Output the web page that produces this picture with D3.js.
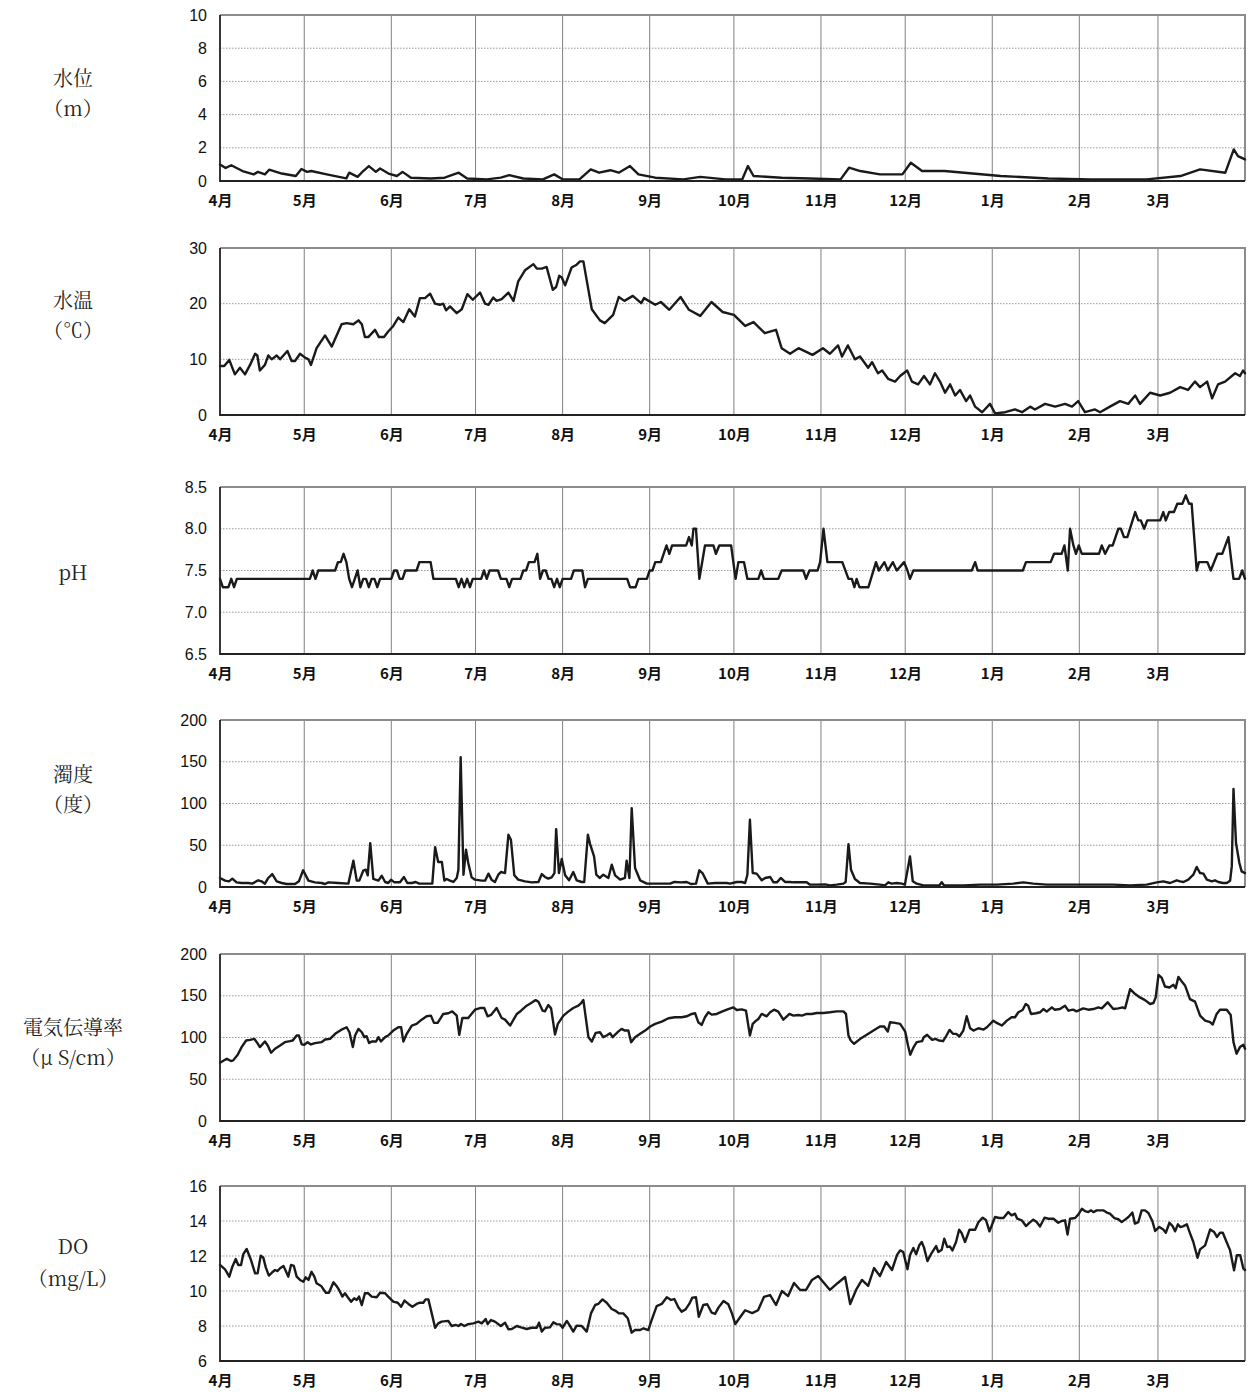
<!DOCTYPE html>
<html><head><meta charset="utf-8">
<script src="https://cdn.jsdelivr.net/npm/d3@7"></script>
<style>
body{margin:0;background:#fff;}
svg{display:block;}
</style></head>
<body>
<svg id="chart" width="1250" height="1396"></svg>
<script>
// ---------- DATA (day index from 1 April, value) ----------
const monthLabels = ["4月","5月","6月","7月","8月","9月","10月","11月","12月","1月","2月","3月"];

const levelTicks = [0,2,4,6,8,10];
const tempTicks = [0,10,20,30];
const phTicks = [6.5,7.0,7.5,8.0,8.5];
const turbTicks = [0,50,100,150,200];
const ecTicks = [0,50,100,150,200];
const doTicks = [6,8,10,12,14,16];

const levelData = [[0,1.0],[2,0.78],[4,0.95],[8,0.6],[12,0.4],[13.5,0.55],[16,0.4],[17.5,0.68],[22,0.45],[27,0.3],[29,0.72],[31,0.55],[32.5,0.6],[38,0.4],[45,0.16],[46,0.5],[49,0.25],[51,0.6],[53,0.9],[55.5,0.55],[57,0.75],[60,0.45],[63,0.3],[65,0.55],[68,0.2],[75,0.15],[80,0.2],[85,0.5],[88,0.15],[95,0.1],[100,0.2],[103,0.35],[108,0.15],[115,0.1],[119,0.4],[122,0.1],[128,0.1],[132,0.7],[135,0.5],[139,0.65],[142,0.5],[146,0.9],[149,0.4],[155,0.2],[165,0.1],[171,0.25],[180,0.1],[186,0.1],[188,0.9],[190,0.3],[200,0.2],[210,0.15],[221,0.1],[224,0.8],[228,0.6],[235,0.4],[243,0.4],[246,1.1],[250,0.6],[258,0.6],[265,0.5],[278,0.3],[295,0.15],[310,0.1],[330,0.1],[342,0.3],[349,0.7],[358,0.5],[361,1.9],[362.5,1.5],[365,1.3]];

const tempData = [[0,8.8],[1.5,8.8],[3.3,9.9],[5.3,7.3],[7.1,8.5],[8.9,7.3],[10.7,9],[12.5,11],[13.3,10.7],[14.2,8],[16,9],[17.2,10.7],[18.4,10],[20.2,10.7],[21.4,10],[24,11.5],[25.5,9.7],[26.7,9.7],[28.5,11],[30.3,10.3],[31.5,10],[32.4,9],[34.4,12],[37.4,14.3],[39.8,12.3],[43.3,16.3],[45.1,16.5],[47.5,16.3],[49.3,17],[50.5,16.3],[51.6,14],[52.8,14],[55.2,15.3],[56.6,14],[58.4,14],[59.9,15],[61.7,16],[63.5,17.5],[65.3,16.7],[67.4,19],[69.4,17.7],[71.2,21],[73,21],[74.8,21.8],[76.6,20],[78.3,19.8],[79.5,20],[80.5,18.8],[81.9,19.5],[84.3,18.3],[86.1,19],[88.1,21.7],[90,20.7],[92.6,22],[94.4,20],[95.6,19.8],[97.3,21.1],[98.5,20.5],[100.3,20.8],[102.7,22],[104.5,20.5],[106.2,24],[108.6,26],[111.6,27.1],[112.8,26.3],[114.6,26.3],[116.3,26.6],[118.5,22.5],[119.7,23],[120.8,25],[121.7,24.7],[122.9,23.3],[125.2,26.5],[127,27],[128.2,27.6],[129.4,27.6],[132.4,19],[135.3,17],[137,16.5],[140,18],[142,21.2],[144,20.5],[147,21.4],[150,20.1],[151,21],[155,19.8],[157,20.3],[160,18.9],[164,21.2],[167,18.9],[171,17.8],[175,20.3],[179,18.5],[183,18],[187,16],[190,16.7],[194,14.7],[198,15.3],[200,12],[203,11],[206,12],[211,10.8],[214.7,12],[217.2,11],[220.1,12.5],[221.5,10.5],[223.6,12.5],[226.1,10],[227.9,10.5],[230.8,8.5],[232.2,9.5],[234.3,7.5],[235.8,8],[237.9,6.5],[240.4,6],[242.2,7],[244.7,8],[246.4,6],[248.6,5.5],[250.7,7],[252.8,5.5],[254.6,7.5],[256.4,6],[258.2,4],[260,5.5],[261.8,3.5],[263.5,4.5],[265.7,2.5],[267.1,3.5],[268.9,1.5],[271.4,0.5],[274.2,2],[276,0.3],[279.6,0.5],[283.1,1],[285.6,0.5],[288.5,1.5],[290.2,1],[293.8,2],[297.4,1.5],[300.9,2],[303.4,1.5],[305.6,2.5],[308,0.5],[311.6,1],[313.4,0.5],[316.9,1.5],[320.5,2.5],[323.4,2],[325.9,3.5],[327.6,2],[331.2,4],[334.8,3.5],[338.3,4],[341.9,5],[344.7,4.5],[347.2,6],[349,5],[351.5,6],[353.3,3],[355.4,5.5],[357.9,6],[361.5,7.5],[363.2,7],[364.3,8],[365,7.5]];

const phData = [[0,7.4],[1,7.3],[3,7.3],[4,7.4],[5,7.3],[6,7.4],[32,7.4],[33,7.5],[34,7.4],[35,7.5],[41,7.5],[42,7.6],[43,7.6],[44,7.7],[45,7.6],[46,7.4],[47,7.3],[48,7.4],[49,7.5],[50,7.3],[51,7.4],[52,7.4],[53,7.3],[54,7.4],[55,7.4],[56,7.3],[57,7.4],[61,7.4],[62,7.5],[63,7.5],[64,7.4],[65,7.4],[66,7.5],[70,7.5],[71,7.6],[75,7.6],[76,7.4],[84,7.4],[85,7.3],[86,7.4],[87,7.3],[88,7.4],[89,7.3],[90,7.4],[93,7.4],[94,7.5],[95,7.4],[96,7.5],[99,7.5],[100,7.4],[102,7.4],[103,7.3],[104,7.4],[107,7.4],[108,7.5],[109,7.5],[110,7.6],[112,7.6],[113,7.7],[114,7.4],[115,7.5],[116,7.5],[117,7.4],[118,7.4],[119,7.3],[120,7.4],[121,7.3],[122,7.4],[125,7.4],[126,7.5],[129,7.5],[130,7.3],[131,7.4],[145,7.4],[146,7.3],[148,7.3],[149,7.4],[152,7.4],[153,7.5],[154,7.5],[155,7.6],[157,7.6],[159,7.8],[160,7.7],[161,7.8],[166,7.8],[167,7.9],[168,7.8],[168.6,8.0],[169.5,8.0],[170.7,7.4],[172.7,7.8],[175.7,7.8],[176.6,7.7],[177.8,7.8],[182,7.8],[183.6,7.4],[184.6,7.6],[186.6,7.6],[187.8,7.4],[191.7,7.4],[192.7,7.5],[193.7,7.4],[198.8,7.4],[200,7.5],[207.7,7.5],[208.7,7.4],[209.9,7.5],[212.8,7.5],[213.7,7.6],[214.9,8.0],[216.3,7.6],[221.6,7.6],[223.8,7.4],[225,7.4],[225.9,7.3],[226.7,7.4],[227.7,7.3],[230.9,7.3],[233.6,7.6],[234.6,7.5],[236.6,7.6],[237.8,7.5],[239.6,7.6],[241,7.5],[243.6,7.6],[244.8,7.5],[245.7,7.4],[246.9,7.5],[267.7,7.5],[268.9,7.6],[269.8,7.5],[285.9,7.5],[287,7.6],[295.8,7.6],[297,7.7],[299.7,7.7],[300.7,7.8],[301.9,7.5],[302.7,8.0],[303.9,7.8],[304.8,7.7],[305.8,7.8],[306.9,7.7],[313,7.7],[314,7.8],[315.2,7.7],[316.7,7.8],[317.9,7.8],[319.9,8.0],[320.8,8.0],[321.9,7.9],[323.1,7.9],[325.9,8.2],[327,8.1],[327.9,8.1],[329.1,8.0],[330.2,8.1],[334.8,8.1],[335.9,8.2],[336.8,8.1],[338,8.2],[339.7,8.2],[340.9,8.3],[342.7,8.3],[343.9,8.4],[345.1,8.3],[346,8.3],[347.8,7.5],[348.6,7.6],[351.6,7.6],[352.8,7.5],[355.2,7.7],[356.9,7.7],[359.1,7.9],[360.9,7.4],[362.9,7.4],[364,7.5],[365,7.4]];

const turbData = [[0,10.8],[1.8,7.6],[3.2,6.8],[4.4,10],[5.9,5.6],[7.7,4.8],[10.1,4.8],[11.5,4],[13.6,8],[14.8,6.8],[16,4],[17.2,10.8],[18.6,15.5],[20.2,6.8],[22,4.8],[23.7,3.6],[26.7,3.6],[28.1,6.8],[29.6,20],[31.5,7.6],[33.8,5.6],[36.2,4.8],[37.4,3.6],[38.6,5.6],[42.1,4.8],[45.7,4],[47.5,31.5],[48.7,7.6],[49.6,7.6],[51,19.5],[51.9,20.7],[52.6,14],[53.5,52.6],[54.6,9.6],[56.4,7.6],[57.6,13.5],[58.8,6],[59.9,4.8],[60.9,8.8],[62.1,5.6],[64.1,5.6],[65.5,12],[66.7,4.8],[68.3,4.8],[69.7,6],[70.9,4],[75.6,4],[76.6,47.8],[77.7,30],[79,30],[79.9,7.6],[80.7,9.6],[81.9,7.6],[83.1,6],[84.3,10.8],[84.9,20.7],[85.7,155.4],[86.7,14.7],[87.6,44.6],[88.4,28.7],[89.6,11.6],[90.8,8.8],[93.2,7.6],[94.4,7.6],[95.6,16],[96.7,8.8],[97.9,6],[99.1,14.7],[100.1,18],[101.5,16.7],[102.7,62.5],[103.6,56.6],[104.8,14],[106.2,8.8],[108.6,6.8],[111,5.6],[113.4,6],[114.6,15.5],[115.7,12],[116.9,10],[118.1,11.6],[119.1,16.7],[119.7,69.3],[120.7,16.7],[121.7,33.5],[122.9,14],[124.3,8],[125.8,18],[127,8],[128.8,6],[129.7,6],[131,62.5],[131.8,51.4],[133.2,36.6],[134,14.7],[135.2,10.8],[136.5,14.7],[138.3,10.8],[139.5,26.7],[140.7,14],[142.5,8.8],[144.2,10.8],[144.8,31.5],[145.8,10.8],[146.6,94.4],[147.8,22.7],[149.6,8],[152,4],[160.3,4],[161.8,6],[164.2,5.6],[166.2,6],[167.7,3.6],[169.5,4],[170.7,20],[171.8,16.7],[173.7,4],[176.3,4.8],[180.5,4.8],[181.6,4],[184,6],[185.8,6],[187,4.8],[187.8,14.7],[188.7,80.5],[189.7,16.7],[191.1,16],[192.9,8],[194.1,10.8],[195.9,12],[197.1,5.6],[198.3,5.6],[199.7,10.8],[201.2,6],[203,6],[204.2,5.6],[208.9,5.6],[210.1,2.8],[212.5,2.8],[215.5,3.2],[217.2,2],[219.6,2.8],[222,4],[222.8,6],[223.8,51.4],[224.7,20.7],[226.1,9.6],[227.9,4.8],[231.5,4],[235,2.8],[236.8,2],[238,5.6],[239.2,4],[241,4.8],[242.8,4],[243.9,2.8],[245.7,36.6],[246.7,6.8],[248.1,4],[250.5,2],[256.2,2],[257,5.6],[257.8,2],[264.7,2],[270.7,2.8],[276.6,2.8],[282.5,4],[286.1,5.6],[289.6,4],[294.4,2.8],[300.3,2.8],[306.3,2.8],[312.2,2.8],[318.1,2.8],[324.1,2],[330,2.8],[333.6,5.6],[335.9,6.8],[338.3,4.8],[340.7,8],[341.9,6.8],[343.1,6],[344.8,8.8],[346.6,14.7],[347.8,24],[349,16.7],[350.2,16],[351.4,8.8],[353.2,6.8],[354.3,8],[355.5,6],[357.1,4.8],[358.5,4.8],[359.7,7.6],[360.3,25],[360.9,117.5],[361.8,52.6],[363,28.7],[363.8,18.7],[365,16.7]];

const ecData = [[0,69.8],[2.4,74.6],[3.9,71.8],[4.7,72.6],[6.3,79.4],[7.7,88.5],[9.3,96.4],[10.7,97.2],[12.2,98.4],[13.1,94.4],[14.2,88.5],[16,95.2],[17,90.5],[18.2,81.7],[19.6,86.5],[21.4,90.5],[23.1,94.4],[24.9,95.6],[25.9,96.4],[27.3,102.4],[28.1,102.4],[29.1,91.7],[30,91.3],[31.2,94.4],[32.4,91.7],[33.8,93.3],[36.2,94.4],[37.4,97.6],[39.2,98.4],[41,104.4],[43.1,109.1],[45.1,112.3],[46.1,106.3],[47.3,88.5],[48.1,102.4],[49.3,110.3],[50.5,106.3],[51.4,100.4],[52.2,101.6],[53.1,93.3],[54,95.2],[55.6,95.2],[56.4,100.4],[57.3,95.2],[58.8,100.4],[59.9,102.4],[61.7,108.3],[63.5,112.3],[64.5,112.3],[65.3,95.2],[66.5,104.4],[68.3,114.3],[70,116.3],[71.8,121.4],[73.6,125.4],[75.1,126.2],[76.2,117.5],[77.5,117.5],[79.5,128.2],[81.3,129],[82.7,131.3],[84.3,126.2],[85.2,103.2],[86.3,123.4],[88.4,123.4],[90.8,133.3],[92.6,135.3],[94.1,135.3],[95.3,125.4],[96.5,127],[98.5,135.3],[100.3,123.4],[101.5,121.4],[103.3,114.3],[105.7,128.2],[107.2,132.1],[109.2,138.1],[110.8,141.3],[112.4,144.8],[113.4,142.9],[114.9,132.1],[115.7,131.3],[116.9,138.9],[117.9,134.9],[119.3,103.6],[120.3,116.3],[122.3,126.2],[124,131],[125.8,135.3],[127.6,138.1],[128.6,141.3],[129.4,144.8],[131.2,100.4],[132.4,95.2],[133.8,105.6],[135.3,106.3],[136.5,100.4],[137.7,102.4],[138.9,105.2],[139.8,100.4],[141.8,107.1],[143,110.3],[144.2,108.3],[145.4,108.3],[146.4,94.4],[147.8,100.4],[149.6,104.4],[151.4,108.3],[153.2,113.1],[155,116.3],[157.3,119],[159.7,123],[162,124.2],[164.4,124.2],[166.2,125.4],[168,128.2],[169.2,129],[170.3,118.3],[171.5,115.1],[172.7,124.2],[173.9,130.2],[175.1,127.4],[176.9,128.2],[178.7,131],[181,134.1],[182.8,136.1],[184,132.9],[185.8,133.7],[187.3,132.1],[188.7,102.4],[189.7,116.3],[190.9,120.2],[191.7,122.2],[192.9,128.2],[194.7,125.4],[195.9,130.2],[197.3,133.3],[198.8,131],[200.6,121.4],[202.8,128.2],[204.2,126.2],[206,127],[207.2,126.2],[208.9,128.2],[210.7,128.2],[212.5,129.4],[214.9,129.4],[217.2,130.2],[219.6,131.3],[222,131.3],[222.9,128.2],[223.8,102.4],[224.6,96.4],[225.8,92.5],[228,98.4],[230.3,103.2],[232.7,108.3],[235,113.1],[236.5,113.1],[237.8,107.1],[238.6,118.3],[240.4,117.5],[242.2,116.3],[244,107.1],[245,90.5],[245.8,79.4],[247,88.5],[248.1,94.4],[250,95.6],[250.6,100.4],[251.8,103.2],[253.6,97.2],[254.8,98.4],[256,96.4],[257.5,95.6],[258.7,102.4],[259.8,109.1],[261,104.4],[262.2,104.4],[263.3,101.2],[264.7,108.3],[265.9,125.4],[267.1,111.1],[268.3,108.3],[270.1,111.1],[271.9,109.5],[273.1,112.3],[275.4,120.2],[276.6,117.5],[278.4,114.3],[280.2,120.2],[281.9,124.2],[283.1,124.2],[284.3,130.2],[285.8,132.9],[286.9,140.1],[287.8,138.1],[288.8,128.2],[290.6,129],[292,130.2],[293.2,134.1],[294.4,131],[296.2,136.1],[297.3,133.3],[299.1,134.1],[300.9,138.1],[302.1,132.1],[303.8,133.3],[305,131.3],[307.4,134.9],[309.2,133.3],[311,134.1],[312.8,136.1],[314,134.9],[316.1,142.1],[318.1,134.1],[319.9,134.9],[321.4,136.1],[322.3,134.9],[324.1,157.9],[325.9,152],[327.6,148],[329.4,144.8],[331.2,140.1],[332.4,141.3],[333.2,148],[334.2,175],[335.3,171.8],[336.5,161.1],[338.1,159.9],[339.5,163.1],[340.3,159.1],[341.3,172.6],[342.5,167.1],[343.7,161.9],[345.4,146],[347.2,142.9],[349,126.2],[350.8,120.2],[352.6,118.3],[353.5,115.5],[354.9,128.2],[356.1,133.3],[358.5,133.3],[359.9,127],[360.9,94.4],[362,80.6],[363.2,88.5],[364.4,91.3],[365,86.5]];

const doData = [[0,11.49],[1.8,11.24],[3.3,10.82],[4.4,11.39],[5.6,11.83],[6.5,11.49],[7.5,11.49],[8.3,12.11],[9.5,12.4],[10.9,11.83],[12.5,11.01],[13.4,11.01],[14.5,12.02],[15.4,11.92],[16.3,11.35],[17.4,10.88],[18.6,11.07],[19.6,11.2],[20.5,11.14],[21.4,11.3],[22.6,11.43],[23.4,11.16],[24.3,10.82],[25.3,11.49],[26.3,11.43],[27.3,10.82],[28.5,10.63],[29.7,10.53],[30.5,10.78],[31.5,10.63],[32.6,11.1],[33.6,10.82],[34.4,10.44],[36,10.29],[37.7,9.9],[38.8,9.9],[40.4,10.5],[41.5,10.29],[42.4,10.06],[43.6,9.68],[44.5,9.87],[45.5,9.64],[46.7,9.39],[47.8,9.58],[48.7,9.49],[49.5,9.68],[50.5,9.2],[51.6,9.87],[52.8,9.87],[54,9.68],[55.8,9.64],[57,9.9],[58.8,9.87],[59.9,9.68],[61.7,9.39],[63.3,9.33],[64.5,9.1],[65.7,9.45],[67.1,9.26],[68.5,9.1],[70,9.26],[71.2,9.33],[72.4,9.33],[73.2,9.52],[74.2,9.52],[75.4,8.72],[76.6,7.9],[77.7,8.15],[78.9,8.25],[81.3,8.29],[82.5,8],[83.9,8.06],[84.9,8],[85.8,8.11],[87,8],[88.4,8.11],[90.2,8.15],[92,8.25],[93.2,8.15],[94.6,8.4],[95.3,8.11],[96.5,8.34],[97.9,8.25],[100,8],[101.5,8.19],[102.7,7.81],[103.9,7.83],[105.7,8],[107.2,7.92],[109.2,7.83],[111,7.9],[112.8,7.9],[113.6,8.19],[114.6,7.68],[115.7,7.9],[117.5,7.92],[118.7,8.21],[119.9,8.11],[121.1,8.09],[122,7.9],[123.5,8.29],[124.4,8.06],[125.8,7.68],[127,8.02],[128.8,8],[130.6,7.68],[132.1,8.72],[133.6,9.2],[134.7,9.26],[136.2,9.52],[137.7,9.33],[139.5,8.97],[140.7,8.88],[142.1,8.72],[143.6,8.72],[145.2,8.44],[146.6,7.62],[147.8,7.77],[149.6,7.77],[150.8,7.87],[152.5,7.77],[153.7,8.34],[155.5,9.14],[157.3,9.26],[159.1,9.64],[160.6,9.49],[161.8,9.54],[163.2,9.07],[164.4,8.82],[165.8,8.95],[167.1,9.26],[168.2,9.62],[169.5,9.64],[170.5,8.53],[172.1,9.2],[173.5,9.24],[175.1,8.76],[176.3,8.69],[177.5,9.05],[179.3,9.43],[181,9.24],[182.3,8.72],[183.5,8.11],[184.5,8.34],[187,8.9],[189.5,8.74],[191.6,8.9],[193.7,9.66],[195.9,9.77],[198,9.2],[200.1,10],[202.3,9.71],[204.4,10.46],[206.6,10.06],[208.7,10.06],[210.8,10.63],[213,10.86],[215.1,10.46],[217.2,10.06],[220,10.46],[222.6,10.8],[224.4,9.26],[226.5,10.06],[228.6,10.63],[230.8,10.29],[232.9,11.31],[235,10.86],[237.2,11.66],[239.3,11.2],[241.1,12.06],[242.2,12.32],[243.3,12.23],[244.8,11.24],[245.7,12.04],[246.9,12.46],[247.9,12.1],[249,12.61],[249.9,12.8],[250.7,12.48],[251.9,11.71],[253.4,12.17],[255,12.57],[255.8,12.23],[257,12.36],[257.9,12.99],[259,12.51],[259.9,12.55],[260.8,12.32],[262.1,12.8],[263.2,13.5],[264.1,13.31],[265.3,12.8],[266.9,13.5],[268.9,13.5],[270.1,13.94],[271.6,14.19],[272.8,14.04],[274,13.41],[276,14.23],[277.5,14.17],[279,14.17],[280.7,14.51],[281.9,14.32],[283.1,14.42],[283.9,14.13],[285.5,14.04],[287,13.71],[288.2,13.89],[289.6,14.08],[290.8,13.94],[292,13.69],[293.6,14.19],[295,14.13],[296.8,14.13],[298.5,13.9],[299.7,14],[300.9,14.04],[301.8,13.22],[302.7,14.13],[304.5,14.17],[305.7,14.38],[306.9,14.7],[308,14.57],[309.2,14.51],[310.2,14.61],[311,14.51],[312.2,14.61],[314.5,14.61],[315.8,14.48],[316.9,14.42],[318.5,14.17],[319.9,14.1],[321.1,13.94],[322.3,14.08],[323.5,14.23],[324.9,14.48],[325.8,13.85],[327,13.94],[328.2,14.61],[329.4,14.61],[330.6,14.46],[332,14],[333,13.43],[334.5,13.66],[335.9,13.52],[336.8,13.33],[338.1,13.9],[339.3,13.69],[340.1,13.41],[341.1,13.81],[341.9,13.66],[342.9,13.69],[344.3,13.81],[345.4,13.31],[346.6,12.8],[348.1,11.9],[349,12.38],[350.8,12.61],[352.6,13.52],[354,13.37],[355,13.09],[356.1,13.33],[357.1,13.33],[358.3,12.86],[359.7,12.32],[361.1,11.18],[362.1,12.04],[363.3,12.04],[364.4,11.28],[365,11.2]];

// ---------- LAYOUT ----------
const svg = d3.select("#chart");
const X0 = 220, X1 = 1245;
const startDate = Date.UTC(2021,3,1);
const toDate = d => new Date(startDate + d*86400000);
const x = d3.scaleUtc().domain([new Date(startDate), new Date(Date.UTC(2022,3,1))]).range([X0, X1]);

const panels = [
  {data: levelData, ticks: levelTicks, top: 15, bottom: 181, fmt: d3.format("d"), label: ["水位","（m）"], ly:[77,107]},
  {data: tempData, ticks: tempTicks, top: 248, bottom: 415, fmt: d3.format("d"), label: ["水温","（℃）"], ly:[299,329]},
  {data: phData, ticks: phTicks, top: 487, bottom: 654, fmt: d3.format(".1f"), label: ["pH"], ly:[571]},
  {data: turbData, ticks: turbTicks, top: 720, bottom: 887, fmt: d3.format("d"), label: ["濁度","（度）"], ly:[773,803]},
  {data: ecData, ticks: ecTicks, top: 954, bottom: 1121, fmt: d3.format("d"), label: ["電気伝導率","（μ S/cm）"], ly:[1026,1056]},
  {data: doData, ticks: doTicks, top: 1186, bottom: 1361, fmt: d3.format("d"), label: ["DO","（mg/L）"], ly:[1245,1277]}
];

const labelFont = "'Noto Serif CJK JP','Liberation Serif','DejaVu Serif','Noto Sans CJK JP',serif";
const tickFont = "'Liberation Sans',Arial,'DejaVu Sans',sans-serif";
const monthFont = "'Noto Sans CJK JP','Liberation Sans',sans-serif";

panels.forEach(p => {
  const y = d3.scaleLinear().domain([p.ticks[0], p.ticks[p.ticks.length-1]]).range([p.bottom, p.top]);
  const g = svg.append("g");

  // horizontal dotted gridlines
  g.append("g").selectAll("line").data(p.ticks.slice(1, -1)).join("line")
    .attr("x1", X0).attr("x2", X1)
    .attr("y1", d => y(d)).attr("y2", d => y(d))
    .attr("stroke", "#9a9a9a").attr("stroke-width", 1).attr("stroke-dasharray", "1.5,1.5");

  // vertical month gridlines
  const monthsTicks = x.ticks(d3.utcMonth.every(1)).slice(0, 12);
  g.append("g").selectAll("line").data(monthsTicks.slice(1)).join("line")
    .attr("x1", d => x(d)).attr("x2", d => x(d))
    .attr("y1", p.top).attr("y2", p.bottom)
    .attr("stroke", "#808080").attr("stroke-width", 1);

  // top & right border (gray)
  g.append("path")
    .attr("d", `M${X0},${p.top}H${X1}V${p.bottom}`)
    .attr("fill", "none").attr("stroke", "#8c8c8c").attr("stroke-width", 2);

  // data line
  const line = d3.line().x(d => x(toDate(d[0]))).y(d => y(d[1])).curve(d3.curveLinear);
  g.append("path").datum(p.data)
    .attr("d", line)
    .attr("fill", "none").attr("stroke", "#1a1a1a").attr("stroke-width", 2.4)
    .attr("stroke-linejoin", "round").attr("stroke-linecap", "round");

  // left & bottom axis lines (dark)
  g.append("path")
    .attr("d", `M${X0},${p.top}V${p.bottom}H${X1}`)
    .attr("fill", "none").attr("stroke", "#222").attr("stroke-width", 1.8);

  // y axis labels
  const ya = g.append("g").attr("transform", `translate(${X0},0)`)
    .call(d3.axisLeft(y).tickValues(p.ticks).tickSize(0).tickPadding(13).tickFormat(p.fmt));
  ya.select(".domain").remove();
  ya.selectAll("text").attr("font-family", tickFont).attr("font-size", 16).attr("fill", "#111");

  // x axis month labels
  const xa = g.append("g").attr("transform", `translate(0,${p.bottom})`)
    .call(d3.axisBottom(x).tickValues(monthsTicks).tickSize(0).tickPadding(14)
      .tickFormat((d, i) => monthLabels[i]));
  xa.select(".domain").remove();
  xa.selectAll("text").attr("font-family", monthFont).attr("font-size", 15).attr("font-weight", "bold").attr("fill", "#111");

  // left labels
  p.label.forEach((s, i) => {
    svg.append("text")
      .attr("x", 73).attr("y", p.ly[i])
      .attr("text-anchor", "middle").attr("dominant-baseline", "central")
      .attr("font-family", labelFont).attr("font-size", 20).attr("fill", "#222")
      .text(s);
  });
});
</script>
</body></html>
